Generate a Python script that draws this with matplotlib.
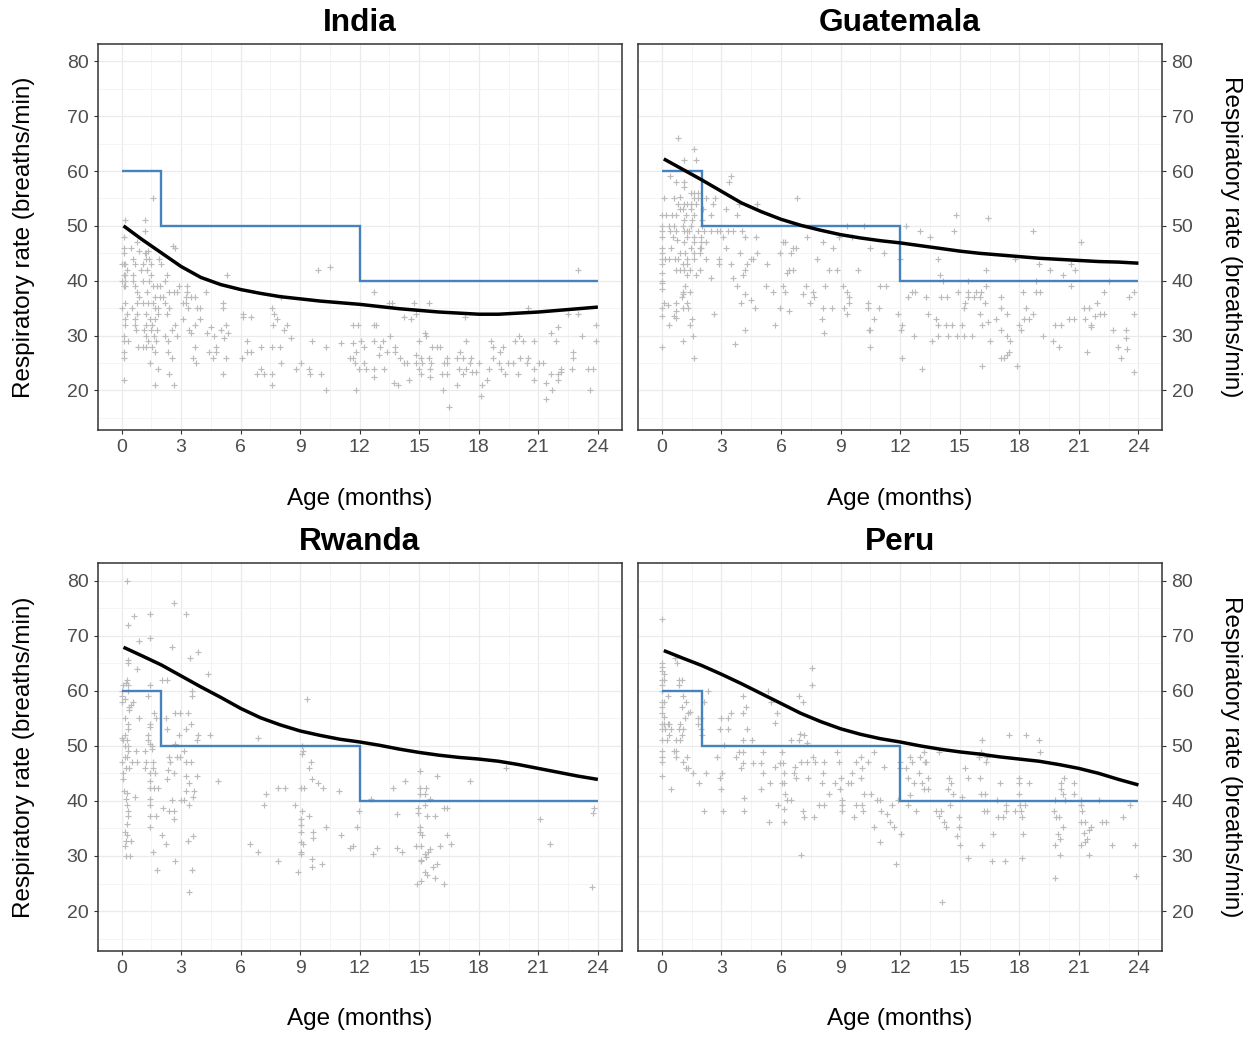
import matplotlib
matplotlib.use("Agg")
import matplotlib.pyplot as plt

plt.rcParams['font.family'] = ['Liberation Sans', 'DejaVu Sans']

# WHO fast-breathing cut-offs (age bands in months)
who_edges = [0, 2, 12, 24]
who_cutoff = [60, 50, 40]

# smoothed fit, read at each month
curve_age = [0.1, 1, 2, 3, 4, 5, 6, 7, 8, 9, 10, 11, 12, 13, 14, 15, 16, 17, 18, 19, 20, 21, 22, 23, 24]
india_fit = [50.0, 47.6, 45.1, 42.6, 40.6, 39.3, 38.4, 37.7, 37.1, 36.7, 36.3, 36.0, 35.7,
             35.3, 34.9, 34.6, 34.3, 34.1, 33.9, 33.9, 34.1, 34.3, 34.6, 34.9, 35.2]
guatemala_fit = [62.2, 60.4, 58.4, 56.3, 54.2, 52.6, 51.2, 50.1, 49.2, 48.4, 47.8, 47.3, 46.9,
                 46.4, 45.9, 45.4, 45.0, 44.7, 44.4, 44.1, 43.9, 43.7, 43.5, 43.4, 43.2]
rwanda_fit = [67.9, 66.4, 64.7, 62.7, 60.7, 58.8, 56.8, 55.1, 53.8, 52.7, 51.9, 51.2, 50.7,
              50.1, 49.4, 48.8, 48.3, 47.9, 47.6, 47.2, 46.6, 45.9, 45.2, 44.5, 43.9]
peru_fit = [67.3, 66.0, 64.6, 63.0, 61.3, 59.5, 57.7, 55.9, 54.4, 53.1, 52.1, 51.3, 50.7,
            50.0, 49.4, 48.9, 48.5, 48.0, 47.6, 47.2, 46.6, 45.9, 45.0, 43.9, 42.9]

# observations: (age in months, breaths/min)
india_pts = [
    (1.6, 55), (0.2, 51), (1.2, 51), (1.2, 49), (0.1, 48), (0.8, 47), (2.6, 46.3), (2.7, 46),
    (0.1, 46), (0.5, 46), (0.9, 45.5), (1.2, 45), (1.25, 45), (1.35, 45.5), (0.1, 45),
    (1.9, 44), (0.6, 44), (1.25, 44), (1.4, 44),
    (0.0, 43), (0.15, 43), (0.2, 43), (0.7, 43), (1.1, 43), (1.5, 43), (2.0, 43),
    (0.3, 42), (1.0, 42), (1.3, 42),
    (0.1, 41), (0.2, 41), (0.6, 41), (1.5, 41), (2.3, 41), (5.3, 41),
    (0.0, 40), (0.2, 40), (0.6, 40), (1.1, 40), (1.4, 40), (2.2, 40),
    (0.1, 39), (0.2, 39), (0.7, 39), (1.6, 39), (1.8, 39), (1.95, 39), (2.9, 39), (3.3, 39),
    (0.8, 38), (1.3, 38), (2.4, 38), (2.65, 38), (2.8, 38), (3.3, 38), (4.25, 38),
    (0.9, 37), (1.7, 37), (1.95, 37), (2.1, 37), (3.25, 37), (3.5, 37), (3.7, 37), (8.05, 37),
    (0.2, 36), (0.8, 36), (1.1, 36), (1.35, 36), (1.6, 36), (2.2, 36), (3.1, 36), (3.25, 36), (5.1, 36),
    (0.0, 35), (0.55, 35), (1.7, 35), (1.85, 35), (2.4, 35), (3.35, 35), (3.8, 35), (3.95, 35),
    (5.1, 35), (7.6, 35),
    (0.3, 34), (0.8, 34), (1.25, 34), (1.85, 34), (2.3, 34), (6.1, 34), (7.7, 34),
    (0.2, 33), (0.7, 33), (1.45, 33), (1.7, 33), (3.1, 33), (3.95, 33), (6.1, 33.4), (6.5, 33.4), (7.85, 33),
    (0.2, 32), (0.7, 32), (1.25, 32), (1.55, 32), (2.7, 32), (3.7, 32), (5.25, 32), (7.65, 32), (8.35, 32),
    (0.75, 31), (1.15, 31), (1.5, 31), (1.8, 31), (2.55, 31), (3.4, 31), (4.5, 31.5), (5.0, 31), (8.2, 31),
    (0.1, 30), (1.25, 30), (1.65, 30), (2.2, 30), (2.8, 30), (3.5, 30.4), (4.3, 30.4), (4.65, 30), (5.35, 30.4),
    (0.15, 29), (0.35, 29), (1.35, 29), (1.75, 29), (2.35, 29), (5.15, 29.5), (8.55, 29.5), (6.3, 29), (9.6, 29),
    (0.85, 28), (1.1, 28), (1.25, 28), (1.55, 28), (3.7, 28), (4.75, 28), (7.05, 28), (7.6, 28), (8.0, 28),
    (10.3, 28), (11.05, 28.6),
    (0.1, 27), (1.7, 27), (2.35, 27), (4.4, 27), (4.75, 27), (6.3, 27), (6.5, 27),
    (0.1, 26), (2.55, 26), (3.6, 26), (4.6, 26), (5.25, 26), (6.05, 26),
    (1.45, 25), (3.75, 25), (8.05, 25), (9.05, 25),
    (1.85, 24), (7.05, 24), (8.8, 24), (9.45, 24),
    (2.4, 23), (5.1, 23), (6.85, 23), (7.2, 23), (7.6, 23), (9.5, 23), (10.05, 23),
    (0.1, 22), (1.7, 21), (2.65, 21), (7.6, 21), (10.3, 20),
    (9.9, 42), (10.5, 42.5), (12.7, 38), (13.5, 36), (13.65, 36), (14.75, 36), (15.5, 36),
    (14.25, 33.4), (14.6, 33), (14.85, 34), (17.3, 33.4), (20.5, 35), (23.0, 42), (22.5, 34), (23.0, 34),
    (11.65, 32), (11.9, 32), (12.7, 32), (12.8, 32), (13.55, 30), (15.3, 30.4), (15.35, 30),
    (11.65, 28.6), (12.05, 29), (12.7, 29), (13.15, 29), (15.0, 29), (17.35, 29), (18.6, 29), (19.8, 29),
    (20.05, 30), (20.25, 29), (20.8, 29), (21.9, 29), (21.65, 30.4), (22.0, 31.5), (23.9, 32), (23.9, 29), (23.2, 30),
    (11.8, 27), (12.2, 28), (13.0, 28), (13.8, 28), (15.65, 28), (15.9, 28), (16.05, 28), (18.7, 28),
    (19.2, 28), (19.05, 27), (22.75, 27),
    (11.5, 26), (11.65, 26), (12.95, 26.5), (13.4, 27), (13.8, 27), (14.05, 26), (14.85, 26.5), (15.1, 26),
    (15.5, 26), (16.4, 26), (16.9, 26), (17.05, 27), (17.2, 26), (17.6, 26), (18.7, 26), (20.1, 26),
    (20.5, 26), (22.75, 26),
    (11.75, 25), (12.2, 25), (14.25, 25), (14.4, 25), (14.85, 25), (15.15, 25), (15.6, 25), (16.25, 25),
    (16.4, 25), (17.55, 25), (18.0, 25), (19.0, 25), (19.45, 25), (19.7, 25), (20.45, 25), (21.05, 25), (21.25, 25),
    (11.95, 24), (12.3, 24), (12.7, 24), (13.2, 24), (15.0, 24), (15.55, 24), (17.0, 24), (17.35, 24),
    (18.5, 24), (19.1, 24), (20.8, 24), (22.15, 24), (22.7, 24), (23.5, 24), (23.75, 24),
    (12.7, 22.4), (15.1, 23), (15.55, 22.4), (16.15, 23), (16.4, 23), (17.2, 23), (17.65, 23.4),
    (17.85, 23.4), (19.3, 23), (20.0, 23), (21.65, 23), (22.0, 23), (22.15, 23.4),
    (14.5, 22), (18.4, 22), (20.8, 22), (22.0, 22),
    (13.75, 21.4), (13.95, 21), (16.9, 21), (18.15, 21), (21.4, 21.4),
    (11.8, 20), (16.2, 20), (21.7, 20), (23.6, 20), (18.1, 19), (21.4, 18.5), (16.5, 17),
]

guatemala_pts = [
    (0.8, 66), (1.6, 64), (1.1, 62), (1.7, 62), (0.4, 59), (0.7, 58), (1.1, 58), (1.1, 57), (3.4, 58), (3.5, 59),
    (0.1, 55), (0.6, 55), (0.9, 55.3), (1.45, 56), (1.6, 56), (1.8, 56), (1.6, 55), (1.8, 55), (2.2, 55),
    (2.7, 55), (6.8, 55),
    (0.8, 54), (1.1, 54), (1.25, 54), (1.45, 54), (1.7, 54), (2.6, 54), (3.9, 54), (4.8, 54),
    (0.9, 53), (1.05, 53), (1.45, 53), (2.05, 53), (3.25, 53),
    (0.0, 52), (0.2, 52), (0.5, 52), (0.7, 52), (1.2, 52), (1.6, 52), (2.5, 52), (3.8, 52), (14.8, 52), (16.4, 51.5),
    (1.1, 51), (1.5, 51), (2.0, 51),
    (0.0, 50), (0.35, 50), (0.6, 50), (1.05, 50), (1.45, 50), (2.0, 50), (9.3, 50), (10.2, 50), (12.3, 50),
    (0.0, 49), (0.4, 49), (0.7, 49), (1.1, 49), (1.25, 49), (1.35, 49), (1.8, 49), (2.1, 49), (2.5, 49),
    (2.8, 49), (2.95, 49), (3.35, 49), (3.6, 49), (4.05, 49), (13.0, 49), (14.7, 49), (18.7, 49),
    (0.0, 48), (0.55, 48), (1.25, 48), (1.6, 48), (1.95, 48), (3.1, 48), (4.2, 48), (4.75, 48), (7.3, 48),
    (8.9, 48), (9.6, 48), (13.5, 48),
    (0.75, 47.4), (1.1, 47), (1.6, 47), (1.95, 47), (2.2, 47), (6.1, 47), (6.2, 47), (8.1, 47), (21.1, 47),
    (0.0, 46), (0.45, 46), (1.45, 46), (1.9, 46), (1.95, 46), (3.25, 46), (6.6, 46), (6.75, 46), (8.6, 46), (10.5, 46),
    (0.0, 45), (0.9, 45), (1.15, 45), (1.6, 45), (1.9, 45), (3.95, 45), (4.8, 45), (5.95, 45), (6.5, 45), (11.2, 45),
    (0.0, 44), (0.17, 44), (0.38, 44), (0.64, 44), (0.82, 44), (1.25, 44), (1.6, 44), (2.2, 44), (2.9, 44),
    (4.5, 44), (4.6, 44), (7.8, 44), (11.97, 44), (13.9, 44), (17.8, 44),
    (0.0, 43), (1.25, 43), (1.08, 43), (2.9, 43), (3.5, 43), (4.27, 43), (5.3, 43), (19.0, 43), (20.6, 43),
    (0.7, 42), (0.9, 42), (1.12, 42), (1.43, 42), (1.9, 42), (4.2, 42), (6.4, 42), (6.6, 42), (8.4, 42),
    (8.8, 42), (9.9, 42), (16.3, 42), (19.55, 42), (20.8, 42),
    (0.03, 41.5), (1.25, 41), (1.7, 41), (2.5, 40.5), (3.6, 40.5), (4.1, 41), (6.3, 41.5), (14.0, 41), (20.2, 41),
    (0.0, 40), (14.15, 40), (15.4, 40), (18.85, 40), (22.5, 40),
    (0.03, 39.5), (0.03, 38.5), (1.17, 39), (1.08, 38), (1.43, 38), (3.78, 39), (5.26, 39), (6.1, 39),
    (7.27, 39), (8.22, 39), (9.13, 39), (10.97, 39), (11.27, 39), (16.3, 39), (20.6, 39),
    (5.6, 38), (6.2, 38), (7.6, 38), (9.3, 38), (12.6, 38), (12.75, 38), (14.9, 38), (15.4, 38), (15.8, 38),
    (16.05, 38), (18.2, 38), (18.85, 38), (19.05, 38), (22.25, 38), (23.8, 38),
    (1.08, 37.5), (1.0, 37), (4.2, 37.5), (7.1, 37.5), (7.65, 37), (9.44, 37), (12.4, 37), (13.3, 37),
    (14.06, 37), (14.37, 37), (15.4, 37), (15.72, 37), (16.03, 37), (17.1, 37), (23.52, 37),
    (0.09, 36), (0.3, 35.5), (0.7, 36), (1.25, 36), (4.0, 36), (4.5, 36.5), (7.44, 36), (9.44, 36), (10.4, 36),
    (15.28, 36), (16.27, 36), (17.06, 35), (18.33, 35), (21.25, 35), (21.5, 35), (21.9, 36),
    (0.0, 35), (0.73, 34.5), (1.08, 35), (1.34, 35), (4.7, 35), (5.96, 35), (8.13, 35), (8.57, 35), (9.18, 35),
    (10.4, 35), (10.92, 35), (15.2, 35),
    (0.0, 33.5), (0.59, 33.5), (0.7, 33.2), (1.52, 33), (2.61, 33.9), (6.39, 34.5), (8.08, 33), (9.3, 33.9),
    (10.7, 33), (11.9, 33.9), (13.4, 33.9), (13.8, 33), (16.03, 33.9), (16.85, 33), (17.4, 33.9), (18.24, 33),
    (18.5, 33), (18.7, 33.9), (20.5, 33), (20.73, 33), (21.29, 33), (21.8, 33.5), (22.07, 33.9), (22.25, 33.9),
    (23.8, 33.9),
    (0.38, 32), (1.43, 32), (5.7, 32), (12.1, 32), (13.9, 32), (14.3, 32), (14.6, 32), (15.1, 32), (16.1, 32),
    (16.4, 32.5), (18.0, 32), (19.8, 32), (20.1, 32), (21.6, 32), (21.6, 31.5),
    (1.57, 30), (4.2, 31), (8.19, 30.4), (10.45, 31), (10.49, 31), (12.02, 31), (12.7, 30), (13.92, 30),
    (14.4, 30), (14.84, 30), (15.19, 30), (15.63, 30), (17.1, 31), (18.1, 31), (17.37, 30), (19.2, 30),
    (22.72, 31), (23.35, 31),
    (1.08, 29), (3.69, 28.5), (13.59, 29), (16.53, 29), (17.54, 29), (19.72, 29), (23.35, 29.5),
    (0.0, 28), (10.49, 28), (20.02, 28), (22.95, 28), (23.4, 27.5),
    (17.46, 27), (21.43, 27), (17.37, 26.5),
    (1.6, 26), (12.09, 26), (17.1, 26), (17.25, 26), (23.1, 26),
    (16.1, 24.4), (17.89, 24.4), (13.1, 24), (23.8, 23.4),
]

rwanda_pts = [
    (0.26, 80), (2.65, 76), (1.46, 74), (3.26, 74), (0.64, 73.5), (0.35, 72), (1.46, 69.5), (0.87, 69),
    (2.56, 68), (3.87, 67), (3.47, 66), (0.35, 65.6), (0.35, 65), (0.77, 64), (4.36, 63), (2.04, 62),
    (2.3, 62), (0.3, 62), (0.24, 61.5), (0.35, 61), (0.07, 61), (1.46, 61), (0.03, 60), (0.35, 60),
    (3.55, 60), (3.55, 59), (9.35, 58.5), (0.03, 59), (0.17, 58.5), (1.34, 59), (0.56, 58), (0.47, 57.5),
    (0.03, 58), (0.4, 57), (0.4, 56.5), (1.64, 56), (2.68, 56), (2.96, 56), (3.34, 56), (0.2, 55),
    (0.87, 55), (1.74, 55), (2.26, 55), (1.43, 54), (0.35, 54), (3.48, 54), (1.43, 53.5), (3.26, 53),
    (2.3, 53), (0.35, 53), (0.17, 52), (1.34, 52), (2.91, 52), (3.87, 52), (4.48, 52), (0.0, 51.5),
    (0.07, 51), (6.86, 51.5), (0.3, 51), (1.34, 51), (3.78, 51), (2.68, 50.4), (1.46, 50.4), (0.17, 50),
    (0.35, 50), (1.52, 50), (9.1, 50), (0.35, 49), (0.73, 49), (1.17, 49), (1.52, 49.5), (3.17, 49),
    (9.15, 49), (9.1, 48.5), (0.17, 48), (0.3, 48), (2.39, 48), (2.82, 48), (2.96, 48), (0.03, 47),
    (0.52, 47), (0.77, 47), (1.25, 47), (1.6, 47), (2.44, 47), (3.26, 47), (3.48, 47), (9.56, 47),
    (0.21, 46), (0.38, 46), (1.17, 46), (1.6, 46), (2.33, 45.6), (9.44, 46), (19.37, 46), (0.07, 45),
    (1.46, 45), (1.69, 45), (2.65, 45), (3.26, 44.6), (3.78, 44.6), (15.02, 45.5), (15.89, 44.5),
    (0.07, 44), (1.43, 43.6), (2.3, 44), (3.38, 43.2), (4.88, 43.6), (9.58, 44), (9.88, 43.2), (14.27, 43.6),
    (17.58, 43.6), (0.12, 41.8), (0.26, 41.5), (1.43, 42.4), (1.64, 42.4), (1.86, 42.3), (3.26, 41.8),
    (3.66, 41.8), (7.87, 42.3), (8.22, 42.3), (9.06, 42.3), (9.18, 42.3), (10.14, 42.3), (10.97, 41.8),
    (13.66, 42.3), (15.02, 42.3), (15.33, 42.3), (7.27, 41.2), (12.58, 40.3), (15.02, 41.2), (15.28, 41.2),
    (0.24, 40.3), (0.7, 40.7), (1.43, 40.3), (2.56, 40.1), (2.99, 40.1), (3.17, 40.1), (3.61, 40.7), (15.54, 40.3),
    (0.3, 39.2), (1.43, 39.2), (2.09, 38.7), (2.39, 38.2), (2.65, 38.2), (3.38, 39.2), (7.18, 39.2),
    (8.75, 39.2), (14.93, 38.7), (11.97, 38.2), (16.24, 38.7), (16.41, 38.7), (15.28, 39.2), (23.82, 38.7),
    (9.1, 38.2), (0.33, 38.2), (0.33, 37.2), (1.74, 37.2), (1.43, 37.2), (2.65, 36.7), (9.44, 37.2),
    (9.06, 36.7), (14.93, 37.8), (15.37, 37.2), (15.8, 37.2), (13.88, 37.7), (23.73, 37.8), (21.08, 36.7),
    (0.3, 35.8), (1.43, 35.3), (10.28, 35.3), (9.06, 35.6), (11.88, 35.3), (15.02, 35.3),
    (0.17, 34.3), (0.3, 33.8), (3.61, 33.7), (2.04, 33.8), (9.06, 34.3), (9.65, 34.3), (11.05, 33.8),
    (16.38, 33.8), (15.05, 34.3), (15.15, 33.8),
    (0.21, 32.7), (0.47, 32.7), (2.26, 32.2), (3.34, 32.8), (6.48, 32.2), (9.06, 32.5), (9.15, 32.2),
    (9.67, 33.2), (16.59, 32.2), (21.6, 32.2),
    (0.17, 31.8), (11.53, 31.4), (11.67, 31.8), (12.89, 31.4), (13.88, 31.4), (14.15, 30.8), (14.84, 31.8),
    (15.1, 31.8), (15.54, 31.3), (16.06, 31.8), (9.06, 30.8), (1.6, 30.8), (6.86, 30.8), (15.45, 30.8), (15.28, 30.3),
    (0.21, 30), (0.43, 30), (9.06, 30.4), (15.1, 29.3), (12.67, 30.4), (15.33, 29.8),
    (2.68, 29), (7.87, 29), (9.58, 29.5), (10.1, 28.6), (15.1, 29), (15.89, 28.6), (15.68, 28),
    (9.58, 28), (1.78, 27.5), (3.57, 27.5), (8.9, 27), (15.28, 27), (15.4, 26.5), (15.8, 26),
    (14.88, 25), (15.1, 25.5), (16.27, 25), (3.38, 23.5), (23.69, 24.4),
]

peru_pts = [
    (0.0, 73), (0.0, 65), (0.0, 64.4), (0.0, 63.5), (0.12, 63), (0.0, 62), (0.0, 61), (0.12, 62), (0.0, 60),
    (0.3, 59), (0.0, 58), (0.12, 58), (0.0, 57), (0.0, 56), (0.12, 55.3), (0.0, 54), (0.0, 53), (0.0, 51),
    (0.0, 49), (0.0, 48), (0.0, 47), (0.0, 44.5),
    (0.12, 54), (0.3, 54), (0.38, 54), (0.47, 53), (0.17, 53), (0.24, 51), (0.38, 52),
    (0.78, 65), (0.64, 66), (0.87, 62), (1.0, 62), (0.87, 61), (1.08, 59), (1.22, 58), (1.0, 57), (1.34, 56),
    (1.43, 56.2), (1.17, 55), (0.9, 54), (0.87, 53), (1.05, 53), (1.0, 52), (0.9, 51), (0.73, 51), (0.59, 49),
    (0.73, 49), (0.7, 48), (1.25, 48), (1.08, 47), (1.22, 46), (1.34, 46), (1.57, 45), (0.47, 42.2),
    (1.81, 55), (1.95, 55), (1.81, 54), (1.99, 53), (2.04, 52), (2.13, 58), (2.3, 60),
    (1.86, 43.2), (2.13, 38.2), (2.21, 45), (2.77, 48), (2.91, 44.1), (3.0, 42.2), (3.08, 38.2), (2.91, 53),
    (3.31, 53), (3.0, 55), (3.14, 50.2), (3.03, 45), (3.34, 55), (3.48, 55.9), (3.73, 48), (3.87, 48.9),
    (3.99, 46), (4.09, 46.9), (4.09, 48.9), (4.09, 51.1), (4.09, 55.9), (4.09, 59), (4.25, 57.1), (4.3, 53),
    (4.13, 40.6), (4.13, 38.2), (4.56, 51.1), (4.6, 46.9), (5.09, 48.9), (5.0, 46.9), (5.09, 45), (5.0, 42.2),
    (5.35, 60), (5.49, 58), (5.44, 43.2), (5.4, 36.2), (5.78, 56), (5.7, 54.1), (5.7, 46.2), (5.87, 39.2),
    (6.05, 48.9), (5.96, 46.9), (6.1, 46.9), (6.13, 45), (6.05, 43.3), (6.17, 43.2), (6.18, 41.3), (6.13, 38.6),
    (6.13, 36.2), (6.31, 40.2), (6.48, 40.2), (6.48, 51.1), (6.66, 45), (6.69, 46.2), (6.74, 44.1), (6.92, 51.1),
    (6.92, 59), (7.09, 58), (6.97, 52.2), (7.0, 47.1), (7.3, 47.1), (7.18, 52), (7.32, 50.5), (7.35, 44.1),
    (7.0, 30.1), (7.09, 38.2), (7.18, 37.1), (7.58, 64.1), (7.58, 61.1), (7.61, 48), (7.7, 47.1), (7.67, 37.1),
    (7.93, 39.2), (8.05, 43.3), (8.19, 39.2), (8.14, 45), (8.19, 47.1), (8.4, 41.2), (8.71, 43.3), (8.83, 48.9),
    (8.92, 47.1), (8.95, 42.2), (9.06, 40.2), (9.06, 39.2), (9.09, 38.2), (9.02, 44.1), (9.36, 43.3), (9.53, 43.3),
    (9.58, 45), (9.67, 37.1), (9.79, 39.2), (9.79, 47.1), (10.05, 48), (10.1, 46), (10.05, 44.1), (10.14, 38.2),
    (10.1, 39.2), (10.17, 41.3), (10.4, 47.1), (10.66, 48.9), (10.52, 41.2), (10.7, 35.3), (10.84, 40.2),
    (10.98, 32.5), (11.01, 40.1), (11.05, 38.2), (11.18, 46.2), (11.32, 37.7), (11.5, 36.2), (11.59, 39.2),
    (11.71, 35.3), (11.79, 28.6), (12.0, 47.1), (11.97, 46), (12.02, 34), (11.88, 40.1), (12.28, 45.9),
    (12.49, 48), (12.58, 47.1), (12.49, 41), (12.4, 39.2), (12.4, 44.1), (12.72, 43.2), (12.79, 38.2),
    (12.93, 45), (13.01, 48), (13.1, 43.2), (13.19, 48.9), (13.24, 47.1), (13.28, 47), (13.4, 44.1),
    (13.41, 42.2), (13.19, 42.1), (13.97, 48.9), (13.8, 38.2), (14.06, 38.2), (13.94, 37.2), (14.23, 36.2),
    (14.29, 35.3), (14.49, 39.2), (14.46, 44.1), (14.41, 42.1), (14.58, 43.2), (14.67, 41.2), (14.84, 33.6),
    (15.02, 32), (14.98, 37.1), (14.98, 35.3), (15.1, 40.7), (15.28, 46), (15.4, 44.1), (15.4, 29.6),
    (16.06, 48.9), (15.98, 48), (16.01, 44.1), (16.1, 32), (16.06, 41.2), (16.27, 41.2), (16.2, 38.2),
    (16.38, 38.2), (16.32, 47), (16.38, 48), (16.11, 51.1), (16.67, 34), (16.62, 29), (16.9, 40.1),
    (16.93, 37.1), (17.02, 43.2), (17.2, 37.1), (17.32, 38.2), (17.32, 39.2), (17.28, 29), (17.46, 52),
    (17.77, 38.2), (17.98, 44.1), (17.98, 43.2), (17.98, 41.2), (18.01, 39.2), (18.1, 38.2), (18.15, 37.1),
    (18.19, 34), (18.12, 29.6), (18.29, 39.2), (18.33, 52), (18.5, 43.2), (18.99, 51.1), (19.02, 48.9),
    (19.76, 38.2), (19.81, 40.1), (19.86, 37.1), (19.93, 34), (19.98, 37.1), (20.03, 33.1), (20.1, 43.2),
    (20.1, 42.2), (20.19, 41.2), (20.24, 44.1), (20.28, 40.2), (20.03, 30.1), (20.21, 35.3), (19.81, 32),
    (19.81, 26), (20.73, 43.2), (20.73, 41.2), (21.11, 40.2), (21.11, 39.2), (21.15, 38.2), (21.11, 36.2),
    (21.29, 36.2), (21.25, 34.2), (21.29, 32.5), (21.11, 32), (21.5, 34.8), (21.6, 35.3), (21.5, 30.1),
    (21.43, 33.1), (21.99, 40.1), (22.16, 36.2), (22.37, 36.2), (22.65, 32), (23.2, 37.1), (23.55, 39.2),
    (23.82, 32), (23.9, 26.4), (14.11, 21.6),
]

panels = [
    ("India", india_pts, india_fit, [97.7, 43.7, 621.7, 430.0], "left"),
    ("Guatemala", guatemala_pts, guatemala_fit, [638.0, 43.7, 1162.3, 430.0], "right"),
    ("Rwanda", rwanda_pts, rwanda_fit, [97.7, 563.0, 621.7, 950.7], "left"),
    ("Peru", peru_pts, peru_fit, [638.0, 563.0, 1162.3, 950.7], "right"),
]

W, H = 1252, 1038
fig = plt.figure(figsize=(W / 100, H / 100), dpi=100)
fig.patch.set_facecolor("white")

edge = "#333333"
for name, pts, fit, box, side in panels:
    x0, y0, x1, y1 = box
    ax = fig.add_axes([x0 / W, 1 - y1 / H, (x1 - x0) / W, (y1 - y0) / H])
    ages = [p[0] for p in pts]
    rates = [p[1] for p in pts]
    ax.scatter(ages, rates, marker="+", s=24, c="#BBBBBB", linewidths=0.85, zorder=2)
    ax.stairs(who_cutoff, who_edges, baseline=None, color="#4682BE", lw=1.7, zorder=3)
    ax.plot(curve_age, fit, color="black", lw=2.5, zorder=4, solid_capstyle="butt")

    ax.set_xticks(range(0, 25, 3))
    ax.set_xticks([1.5, 4.5, 7.5, 10.5, 13.5, 16.5, 19.5, 22.5], minor=True)
    ax.set_yticks(range(20, 81, 10))
    ax.set_yticks([15, 25, 35, 45, 55, 65, 75], minor=True)
    ax.set_xlim(-1.2, 25.2)
    ax.set_ylim(12.8, 83.2)
    ax.grid(which="major", color="#EBEBEB", lw=0.9)
    ax.grid(which="minor", color="#F2F2F2", lw=0.6)
    ax.set_axisbelow(True)
    for sp in ax.spines.values():
        sp.set_color(edge)
        sp.set_linewidth(1.1)
    ax.tick_params(which="major", direction="out", length=3.2, width=0.8, color=edge,
                   labelsize=14, labelcolor="#4D4D4D", pad=3.5)
    ax.tick_params(which="minor", length=0)

    ax.set_title(name, fontsize=22.8, fontweight="bold", pad=9)
    ax.set_xlabel("Age (months)", fontsize=17.5, labelpad=22.5)
    if side == "right":
        ax.yaxis.tick_right()
        ax.yaxis.set_label_position("right")
        ax.set_ylabel("Respiratory rate (breaths/min)", fontsize=17.5, rotation=270,
                      va="bottom", labelpad=19)
    else:
        ax.set_ylabel("Respiratory rate (breaths/min)", fontsize=17.5, labelpad=23)

fig.savefig("out.png", dpi=100)
